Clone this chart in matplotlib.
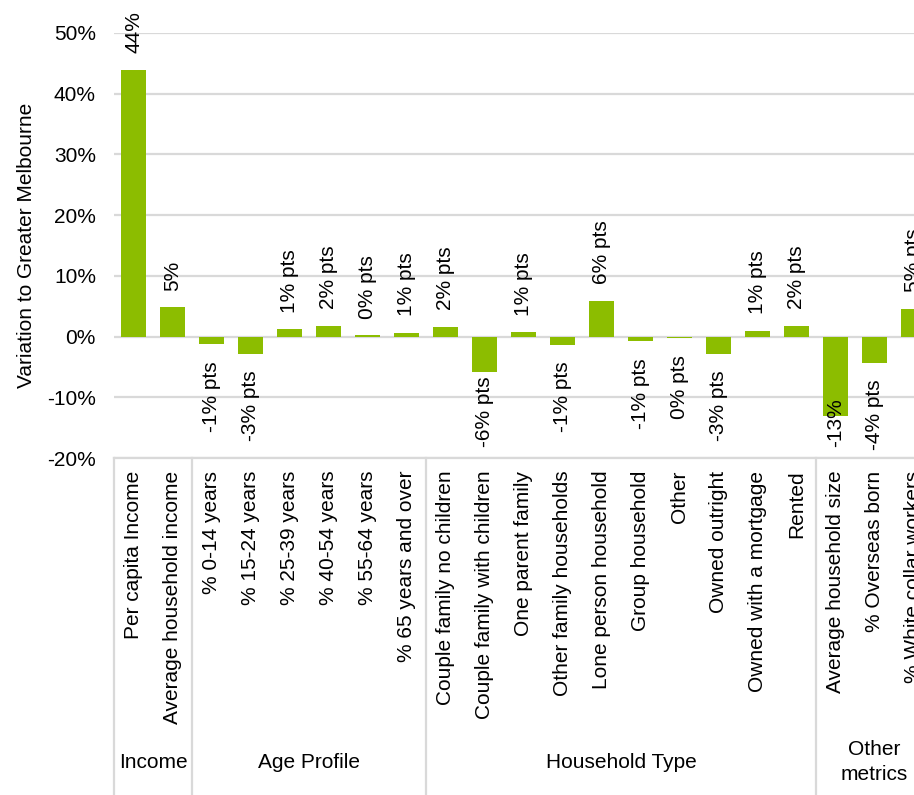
import matplotlib
matplotlib.use('Agg')
import matplotlib.pyplot as plt
import matplotlib.transforms as mtransforms

plt.rcParams['font.family'] = ['Liberation Sans', 'DejaVu Sans']

categories = ['Per capita Income', 'Average household income',
              '% 0-14 years', '% 15-24 years', '% 25-39 years', '% 40-54 years',
              '% 55-64 years', '% 65 years and over',
              'Couple family no children', 'Couple family with children',
              'One parent family', 'Other family households', 'Lone person household',
              'Group household', 'Other', 'Owned outright', 'Owned with a mortgage',
              'Rented',
              'Average household size', '% Overseas born', '% White collar workers']
values = [43.9, 4.8,
          -1.3, -2.9, 1.2, 1.8, 0.2, 0.6,
          1.6, -5.8, 0.7, -1.4, 5.9, -0.8, -0.3, -2.8, 1.0, 1.8,
          -13.1, -4.3, 4.6]
units = ['%', '%',
         '% pts', '% pts', '% pts', '% pts', '% pts', '% pts',
         '% pts', '% pts', '% pts', '% pts', '% pts', '% pts', '% pts', '% pts',
         '% pts', '% pts',
         '%', '% pts', '% pts']
groups = ['Income', 'Age Profile', 'Household Type', 'Other\nmetrics']
group_sizes = [2, 6, 10, 3]
yticks = [-20, -10, 0, 10, 20, 30, 40, 50]

green = '#8CBD00'
grid = '#D9D9D9'
fs = 15

fig = plt.figure(figsize=(9.14, 7.95), dpi=100)
# axes run past the right edge of the figure on purpose
ax = fig.add_axes([114 / 914, 337 / 795, 819 / 914, 425 / 795])

x = list(range(len(categories)))
ax.bar(x, values, width=0.66, color=green, zorder=3)

ax.set_xlim(-0.5, len(categories) - 0.5)
ax.set_ylim(yticks[0], yticks[-1])
ax.set_yticks(yticks)
ax.set_yticklabels([f'{t}%' for t in yticks], fontsize=fs)
ax.set_xticks(x)
ax.set_xticklabels(categories, rotation=90, fontsize=fs)
ax.tick_params(axis='both', length=0)
ax.tick_params(axis='x', pad=9)
ax.tick_params(axis='y', pad=13)
ax.yaxis.grid(True, color=grid, linewidth=1.6, zorder=0)
ax.set_axisbelow(True)
for side in ['top', 'right', 'left']:
    ax.spines[side].set_visible(False)
ax.spines['bottom'].set_color(grid)
ax.spines['bottom'].set_linewidth(1.6)

fig.text(27 / 914, 1 - 245.5 / 795, 'Variation to Greater Melbourne',
         rotation=90, ha='center', va='center', fontsize=fs)

# value labels outside the bar ends
labels = []
for xi, v, u in zip(x, values, units):
    txt = f'{int(round(v))}{u}'
    if v >= 0:
        t = ax.annotate(txt, (xi, v), xytext=(0, 12), textcoords='offset points',
                        rotation=90, ha='center', va='bottom', fontsize=fs, zorder=4)
    else:
        t = ax.annotate(txt, (xi, v), xytext=(0, -12), textcoords='offset points',
                        rotation=90, ha='center', va='top', fontsize=fs, zorder=4)
    labels.append((t, xi, v))

# pull negative labels back inside the plot area if they run off the bottom
fig.canvas.draw()
renderer = fig.canvas.get_renderer()
ax_bottom = ax.get_window_extent(renderer).y0
for t, xi, v in labels:
    if v < 0 and t.get_window_extent(renderer).y0 < ax_bottom:
        t.xy = (xi, yticks[0])
        t.set_position((0, 8))
        t.set_va('bottom')

# group separators and group names under the category labels
trans = mtransforms.blended_transform_factory(ax.transData, ax.transAxes)
bottom_y = -(795 - 458 + 10) / 425
label_y = -(762 - 458) / 425
start = 0
edges = [-0.5]
for name, size in zip(groups, group_sizes):
    centre = start + (size - 1) / 2
    ax.text(centre, label_y, name, transform=trans, ha='center', va='center',
            fontsize=fs, linespacing=1.45, clip_on=False)
    start += size
    edges.append(start - 0.5)
for e in edges:
    ax.plot([e, e], [0, bottom_y], transform=trans, color=grid, linewidth=1.6,
            clip_on=False)

fig.savefig('out.png', dpi=100)
